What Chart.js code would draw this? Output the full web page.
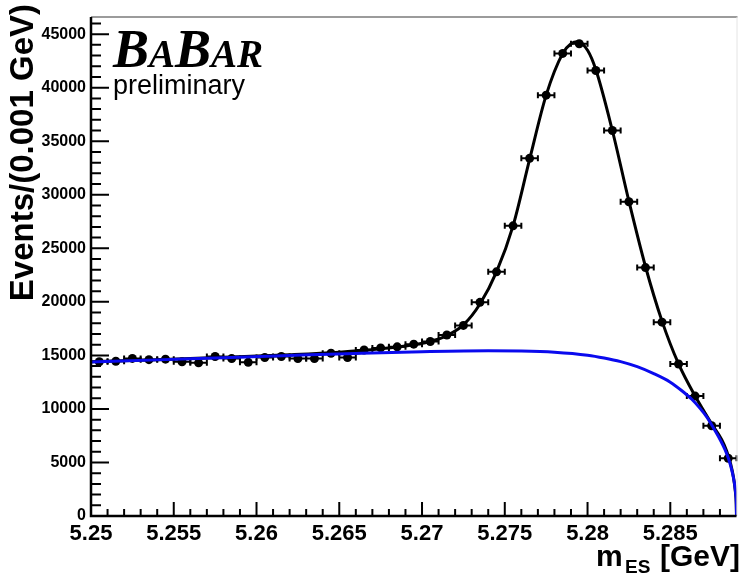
<!DOCTYPE html>
<html>
<head>
<meta charset="utf-8">
<script src="https://cdn.jsdelivr.net/npm/chart.js@4.4.4/dist/chart.umd.min.js"></script>
<style>
  html, body { margin: 0; padding: 0; background: #fff; }
  #wrap { width: 741px; height: 574px; }
</style>
</head>
<body>
<div id="wrap"><canvas id="chart" width="741" height="574"></canvas></div>
<script>
// m_ES histogram, 0.001 GeV bins
const binCenters = [5.2505, 5.2515, 5.2525, 5.2535, 5.2545, 5.2555, 5.2565, 5.2575, 5.2585, 5.2595,
  5.2605, 5.2615, 5.2625, 5.2635, 5.2645, 5.2655, 5.2665, 5.2675, 5.2685, 5.2695,
  5.2705, 5.2715, 5.2725, 5.2735, 5.2745, 5.2755, 5.2765, 5.2775, 5.2785, 5.2795,
  5.2805, 5.2815, 5.2825, 5.2835, 5.2845, 5.2855, 5.2865, 5.2875, 5.2885];
const counts = [14400, 14450, 14720, 14600, 14650, 14400, 14300, 14900, 14700, 14350,
  14800, 14900, 14700, 14700, 15200, 14800, 15500, 15700, 15800, 16050,
  16300, 16900, 17800, 19950, 22800, 27100, 33400, 39300, 43200, 44100,
  41600, 36000, 29350, 23200, 18100, 14200, 11200, 8430, 5390];
const BIN_HALF = 0.0005;

// total fit (black)
const totalX = [5.250, 5.254, 5.258, 5.262, 5.265, 5.2675, 5.2695, 5.2705, 5.2715, 5.2725,
  5.2735, 5.2745, 5.2755, 5.2765, 5.2775, 5.2785, 5.2790, 5.2794, 5.2800, 5.2805,
  5.2815, 5.2825, 5.2835, 5.2845, 5.2855, 5.2865, 5.2875, 5.2881, 5.2884, 5.28865,
  5.28882, 5.28893, 5.28898, 5.2890];
const totalY = [14400, 14600, 14820, 15060, 15300, 15620, 16000, 16300, 16850, 17850,
  19800, 22800, 27100, 33300, 39300, 43200, 44100, 44300, 43500, 41700,
  36000, 29400, 23300, 18200, 14200, 11200, 8600, 7150, 6100, 4850,
  3600, 2300, 1250, 0];

// background (ARGUS, blue)
const bkgX = [5.250, 5.254, 5.258, 5.262, 5.266, 5.270, 5.274, 5.276, 5.278, 5.280,
  5.281, 5.282, 5.283, 5.284, 5.285, 5.2857, 5.2863, 5.2868, 5.2872, 5.2876,
  5.2879, 5.2882, 5.2884, 5.2886, 5.28875, 5.28887, 5.28895, 5.28899, 5.2890];
const bkgY = [14380, 14580, 14790, 14990, 15180, 15340, 15430, 15410, 15300, 15020,
  14760, 14420, 13950, 13300, 12500, 11700, 10900, 10050, 9250, 8250,
  7450, 6550, 5850, 4950, 4050, 3100, 2100, 1100, 0];

// axis labels
const xTickLabels = [5.25, 5.255, 5.26, 5.265, 5.27, 5.275, 5.28, 5.285];
const yTickLabels = [0, 5000, 10000, 15000, 20000, 25000, 30000, 35000, 40000, 45000];

const X_MIN = 5.25, X_MAX = 5.289, Y_MAX = 46600;
const X_MINOR = 0.001, Y_MINOR = 1000;
const FONT = "'Liberation Sans', Arial, Helvetica, sans-serif";

const decorations = {
  id: 'decorations',
  beforeDatasetsDraw(chart) {
    const { ctx, scales: { x, y } } = chart;
    ctx.save();
    ctx.strokeStyle = '#000';
    ctx.lineWidth = 2;
    binCenters.forEach((c, i) => {
      const x0 = x.getPixelForValue(c - BIN_HALF);
      const x1 = x.getPixelForValue(c + BIN_HALF);
      const py = y.getPixelForValue(counts[i]);
      ctx.beginPath();
      ctx.moveTo(x0, py); ctx.lineTo(x1, py);
      ctx.moveTo(x0, py - 3); ctx.lineTo(x0, py + 3);
      ctx.moveTo(x1, py - 3); ctx.lineTo(x1, py + 3);
      ctx.stroke();
    });
    ctx.restore();
  },
  afterDraw(chart) {
    const { ctx, chartArea: a, scales: { x, y } } = chart;
    ctx.save();
    // frame
    ctx.strokeStyle = '#7a7a7a'; ctx.lineWidth = 1.5;
    ctx.beginPath(); ctx.moveTo(a.left, a.top); ctx.lineTo(a.right + 1, a.top); ctx.stroke();
    ctx.strokeStyle = '#e4e4e4'; ctx.lineWidth = 1;
    ctx.beginPath(); ctx.moveTo(a.right + 0.5, a.top); ctx.lineTo(a.right + 0.5, a.bottom); ctx.stroke();

    // axes
    ctx.strokeStyle = '#000'; ctx.lineWidth = 2.5;
    ctx.beginPath();
    ctx.moveTo(a.left, a.top); ctx.lineTo(a.left, a.bottom); ctx.lineTo(a.right, a.bottom);
    ctx.stroke();

    // inward ticks
    ctx.lineWidth = 2;
    ctx.beginPath();
    for (let k = 0; k * Y_MINOR <= Y_MAX; k++) {
      const py = y.getPixelForValue(k * Y_MINOR);
      const len = k % 5 === 0 ? 18 : 10;
      ctx.moveTo(a.left, py); ctx.lineTo(a.left + len, py);
    }
    for (let k = 1; X_MIN + k * X_MINOR < X_MAX - 1e-9; k++) {
      const px = x.getPixelForValue(X_MIN + k * X_MINOR);
      const len = k % 5 === 0 ? 14 : 7;
      ctx.moveTo(px, a.bottom); ctx.lineTo(px, a.bottom - len);
    }
    ctx.stroke();

    ctx.fillStyle = '#000';
    // y title
    ctx.save();
    ctx.translate(33, 4);
    ctx.rotate(-Math.PI / 2);
    ctx.font = 'bold 33px ' + FONT;
    ctx.textAlign = 'right';
    ctx.textBaseline = 'alphabetic';
    ctx.fillText('Events/(0.001 GeV)', 0, 0);
    ctx.restore();

    // x title
    ctx.textBaseline = 'alphabetic';
    ctx.textAlign = 'right';
    ctx.font = 'bold 30px ' + FONT;
    ctx.fillText('[GeV]', 740, 566);
    ctx.textAlign = 'left';
    ctx.fillText('m', 596, 566);
    ctx.font = 'bold 19px ' + FONT;
    ctx.fillText('ES', 625, 573);

    // BABAR logo
    const big = "italic bold 54px 'Liberation Serif', 'Times New Roman', serif";
    const small = "italic bold 39px 'Liberation Serif', 'Times New Roman', serif";
    let lx = 113;
    const ly = 67;
    [['B', big], ['A', small], ['B', big], ['AR', small]].forEach(([s, f]) => {
      ctx.font = f;
      ctx.fillText(s, lx, ly);
      lx += ctx.measureText(s).width;
    });
    ctx.font = '27px ' + FONT;
    ctx.fillText('preliminary', 113, 94);
    ctx.restore();
  }
};

new Chart(document.getElementById('chart'), {
  type: 'scatter',
  data: {
    datasets: [
      {
        label: 'background',
        data: bkgX.map((v, i) => ({ x: v, y: bkgY[i] })),
        showLine: true, pointRadius: 0, borderColor: '#0a0aee', borderWidth: 3,
        cubicInterpolationMode: 'monotone', fill: false, order: 0
      },
      {
        label: 'total',
        data: totalX.map((v, i) => ({ x: v, y: totalY[i] })),
        showLine: true, pointRadius: 0, borderColor: '#000', borderWidth: 3,
        cubicInterpolationMode: 'monotone', fill: false, order: 1
      },
      {
        label: 'data',
        data: binCenters.map((v, i) => ({ x: v, y: counts[i] })),
        pointRadius: 4.5, backgroundColor: '#000', borderWidth: 0, order: 2
      }
    ]
  },
  options: {
    responsive: false,
    animation: false,
    devicePixelRatio: 1,
    layout: { padding: { top: 17, right: 1, left: 0, bottom: 0 } },
    plugins: { legend: { display: false }, tooltip: { enabled: false } },
    scales: {
      x: {
        type: 'linear', min: X_MIN, max: X_MAX,
        grid: { display: false }, border: { display: false },
        afterBuildTicks: s => { s.ticks = xTickLabels.map(v => ({ value: v })); },
        ticks: {
          autoSkip: false, maxRotation: 0, padding: -3, color: '#000',
          font: { family: FONT, size: 22, weight: 'bold' },
          callback: v => String(v)
        },
        afterFit: s => { s.height = 58; }
      },
      y: {
        type: 'linear', min: 0, max: Y_MAX,
        grid: { display: false }, border: { display: false },
        afterBuildTicks: s => { s.ticks = yTickLabels.map(v => ({ value: v })); },
        ticks: {
          autoSkip: false, padding: -3, color: '#000',
          font: { family: FONT, size: 16, weight: 'bold' },
          callback: v => String(v)
        },
        afterFit: s => { s.width = 91; }
      }
    }
  },
  plugins: [decorations]
});
</script>
</body>
</html>
